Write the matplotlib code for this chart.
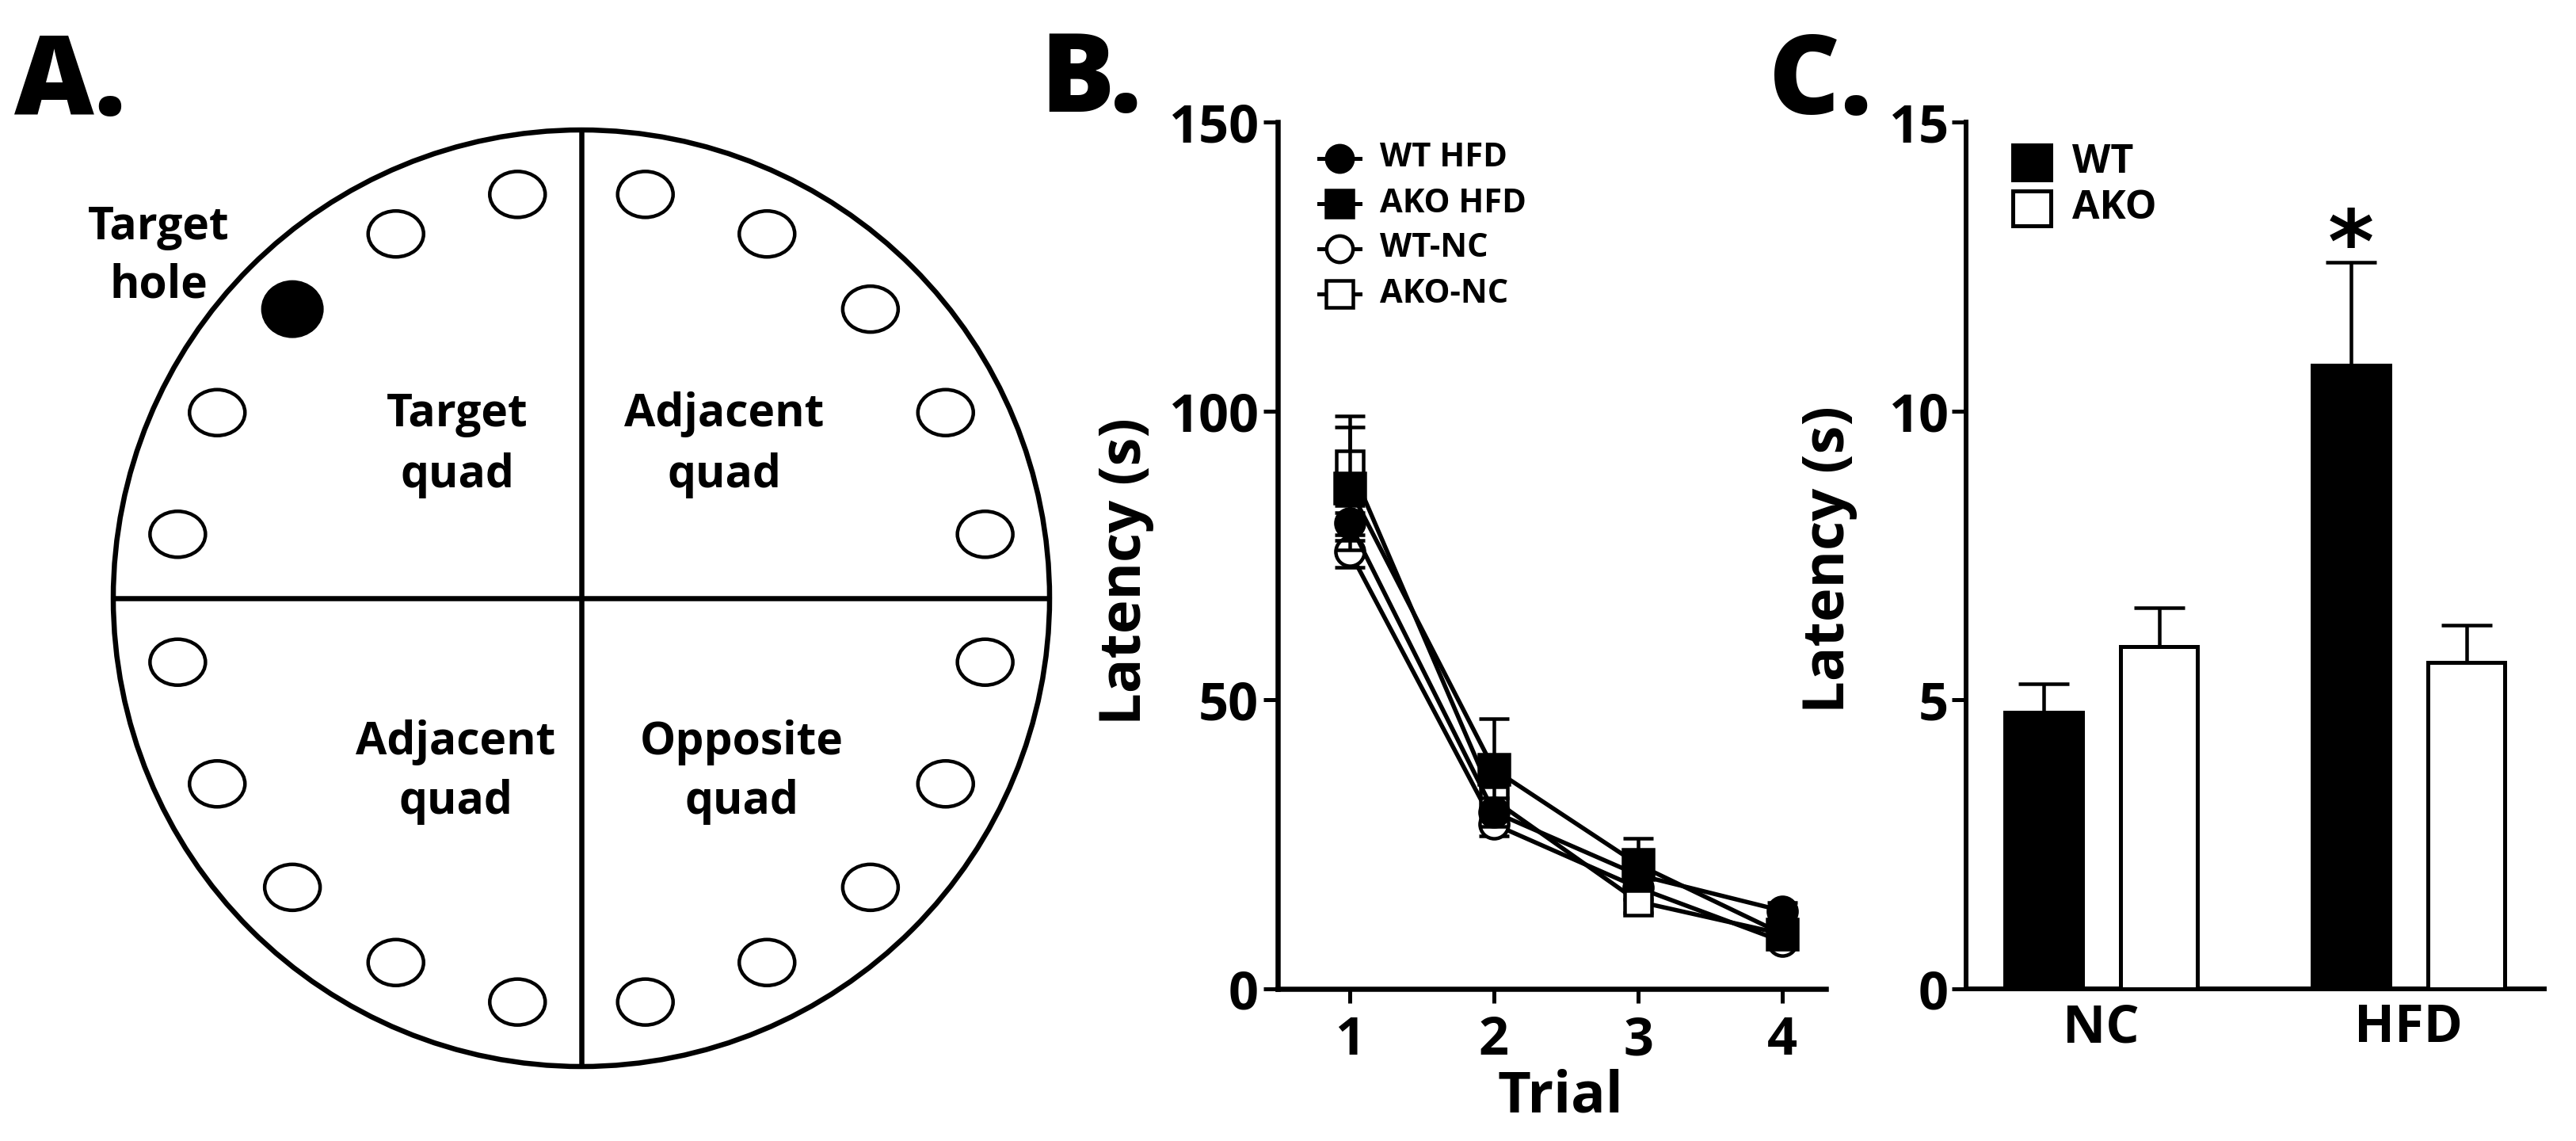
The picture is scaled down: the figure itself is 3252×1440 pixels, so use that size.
import matplotlib
matplotlib.use("Agg")
import matplotlib.pyplot as plt
from matplotlib.patches import Circle, Ellipse, Rectangle
import numpy as np

# ---------------- data ----------------
trials = [1, 2, 3, 4]
wt_hfd = [80.6, 30.6, 19.7, 13.5]
wt_hfd_sem = [3.0, 2.5, 2.0, 1.5]
ako_hfd = [86.6, 38.0, 21.5, 9.5]
ako_hfd_sem = [10.6, 8.8, 4.5, 1.5]
wt_nc = [75.7, 28.5, 17.5, 8.2]
wt_nc_sem = [2.8, 2.0, 2.0, 1.0]
ako_nc = [90.8, 32.7, 15.1, 9.5]
ako_nc_sem = [8.4, 3.0, 2.0, 1.5]
b_yticks = [0, 50, 100, 150]

groups = ["NC", "HFD"]
wt_bar = [4.78, 10.79]
wt_bar_sem = [0.50, 1.78]
ako_bar = [5.93, 5.65]
ako_bar_sem = [0.67, 0.64]
c_yticks = [0, 5, 10, 15]
sig_marks = ["", "*"]          # significance over WT bars
sig_height = [0.0, 13.1]

# Panel A: 20 holes every 18 degrees starting at 9 degrees; hole 7 is the target
hole_angles = [9 + 18 * k for k in range(20)]
target_index = 7
quad_labels = [("Target", "quad"), ("Adjacent", "quad"),
               ("Adjacent", "quad"), ("Opposite", "quad")]

# ---------------- figure ----------------
W, H, DPI = 3252, 1440, 100
fig = plt.figure(figsize=(W / DPI, H / DPI), dpi=DPI)
FONT = ["Open Sans", "DejaVu Sans"]
plt.rcParams["font.family"] = FONT
plt.rcParams["font.weight"] = "bold"


def pt(px):
    return px * 72.0 / DPI


def box(l, t, r, b):
    return [l / W, 1 - b / H, (r - l) / W, (b - t) / H]


# overlay axes in pixel coordinates (for diagram, legends and letters)
ov = fig.add_axes([0, 0, 1, 1], zorder=5)
ov.set_xlim(0, W)
ov.set_ylim(H, 0)
ov.axis("off")
ov.patch.set_alpha(0)

# ---------------- Panel A ----------------
cx, cy, R, rh = 734, 755, 591, 516
ov.add_patch(Circle((cx, cy), R, fill=False, lw=pt(6.5), ec="black"))
ov.plot([cx, cx], [cy - R, cy + R], color="black", lw=pt(6.5), solid_capstyle="butt")
ov.plot([cx - R, cx + R], [cy, cy], color="black", lw=pt(6.5), solid_capstyle="butt")
for k, a in enumerate(hole_angles):
    hx = cx + rh * np.cos(np.radians(a))
    hy = cy - rh * np.sin(np.radians(a))
    if k == target_index:
        ov.add_patch(Ellipse((hx, hy), 76, 70, fc="black", ec="black", lw=pt(3)))
    else:
        ov.add_patch(Ellipse((hx, hy), 70, 58, fc="white", ec="black", lw=pt(4.5)))

qpos = [(577, 538, 615), (914, 538, 615), (575, 952, 1027), (936, 952, 1027)]
for (l1, l2), (qx, b1, b2) in zip(quad_labels, qpos):
    ov.text(qx, b1, l1, ha="center", va="baseline", fontsize=41, fontweight="bold")
    ov.text(qx, b2, l2, ha="center", va="baseline", fontsize=41, fontweight="bold")
ov.text(200, 302, "Target", ha="center", va="baseline", fontsize=41, fontweight="bold")
ov.text(200, 375, "hole", ha="center", va="baseline", fontsize=41, fontweight="bold")

# panel letters
for lab, x, yb in [("A.", 18, 145), ("B.", 1313, 141), ("C.", 2233, 144)]:
    ov.text(x, yb, lab, ha="left", va="baseline", fontsize=100, fontweight="heavy")

# ---------------- Panel B ----------------
axB = fig.add_axes(box(1613, 154, 2305, 1248))
axB.patch.set_alpha(0)
lw_line = pt(5.5)
err_kw = dict(elinewidth=pt(4.5), capsize=pt(19), capthick=pt(4.5), ecolor="black")
series = [
    ("WT-NC", wt_nc, wt_nc_sem, "o", "white", 26),
    ("AKO-NC", ako_nc, ako_nc_sem, "s", "white", 25),
    ("WT HFD", wt_hfd, wt_hfd_sem, "o", "black", 26),
    ("AKO HFD", ako_hfd, ako_hfd_sem, "s", "black", 27),
]
for i, (name, vals, sem, mk, fc, ms) in enumerate(series):
    axB.errorbar(trials, vals, yerr=sem, color="black", lw=lw_line, marker=mk,
                 ms=ms, mfc=fc, mec="black", mew=pt(4.5), zorder=3 + i,
                 clip_on=False, **err_kw)
axB.set_ylim(0, 150)
axB.set_xlim(0.502, 4.30)
axB.set_yticks(b_yticks)
axB.set_xticks(trials)
for s in ["top", "right"]:
    axB.spines[s].set_visible(False)
for s in ["left", "bottom"]:
    axB.spines[s].set_linewidth(pt(6.5))
axB.tick_params(axis="both", direction="out", length=pt(18), width=pt(5),
                labelsize=48, pad=pt(6))
axB.tick_params(axis="x", pad=pt(14))
for t in axB.get_xticklabels() + axB.get_yticklabels():
    t.set_fontweight("bold")
axB.set_ylabel("Latency (s)", fontsize=52, fontweight="bold")
axB.yaxis.set_label_coords(-0.226, 0.482)
axB.set_xlabel("Trial", fontsize=52, fontweight="bold")
axB.xaxis.set_label_coords(0.516, -0.092)

# legend B (manual)
leg_order = [("WT HFD", "o", "black"), ("AKO HFD", "s", "black"),
             ("WT-NC", "o", "white"), ("AKO-NC", "s", "white")]
for j, (name, mk, fc) in enumerate(leg_order):
    yy = 200 + 57 * j
    ov.plot([1665, 1717], [yy, yy], color="black", lw=pt(5))
    ov.plot([1691], [yy], marker=mk, ms=24, mfc=fc,
            mec="black", mew=pt(4.5), color="black")
    ov.text(1742, yy, name, ha="left", va="center", fontsize=30, fontweight="bold")

# ---------------- Panel C ----------------
axC = fig.add_axes(box(2482, 154, 3212, 1248))
axC.patch.set_alpha(0)
centers = np.array([0.5, 3.167])
bw = 0.67
axC.bar(centers - 0.5, wt_bar, bw, color="black", edgecolor="black", lw=pt(5),
        yerr=[[0, 0], wt_bar_sem], error_kw=dict(elinewidth=pt(4.5), capsize=pt(32),
                                                 capthick=pt(4.5), ecolor="black"),
        zorder=3)
axC.bar(centers + 0.5, ako_bar, bw, color="white", edgecolor="black", lw=pt(5),
        yerr=[[0, 0], ako_bar_sem], error_kw=dict(elinewidth=pt(4.5), capsize=pt(32),
                                                  capthick=pt(4.5), ecolor="black"),
        zorder=3)
for xc, mark, hgt in zip(centers - 0.5, sig_marks, sig_height):
    if mark:
        axC.text(xc, hgt - 0.70, mark, ha="center", va="baseline", fontsize=80,
                 fontweight="bold", family=["DejaVu Sans"])
axC.set_ylim(0, 15)
axC.set_xlim(-0.674, 4.344)
axC.set_yticks(c_yticks)
axC.set_xticks(centers)
axC.set_xticklabels(groups)
for s in ["top", "right"]:
    axC.spines[s].set_visible(False)
for s in ["left", "bottom"]:
    axC.spines[s].set_linewidth(pt(6))
axC.tick_params(axis="y", direction="out", length=pt(18), width=pt(5),
                labelsize=48, pad=pt(4))
axC.tick_params(axis="x", length=0, labelsize=48, pad=pt(16))
for t in axC.get_xticklabels() + axC.get_yticklabels():
    t.set_fontweight("bold")
axC.set_ylabel("Latency (s)", fontsize=52, fontweight="bold")
axC.yaxis.set_label_coords(-0.188, 0.495)

# legend C (manual)
for j, (name, fc) in enumerate([("WT", "black"), ("AKO", "white")]):
    top = 183 + 58 * j
    ov.add_patch(Rectangle((2541, top), 48, 44, fc=fc, ec="black", lw=pt(5)))
    ov.text(2616, top + 22, name, ha="left", va="center", fontsize=36, fontweight="bold")

fig.savefig("out.png", dpi=DPI, facecolor="white")
